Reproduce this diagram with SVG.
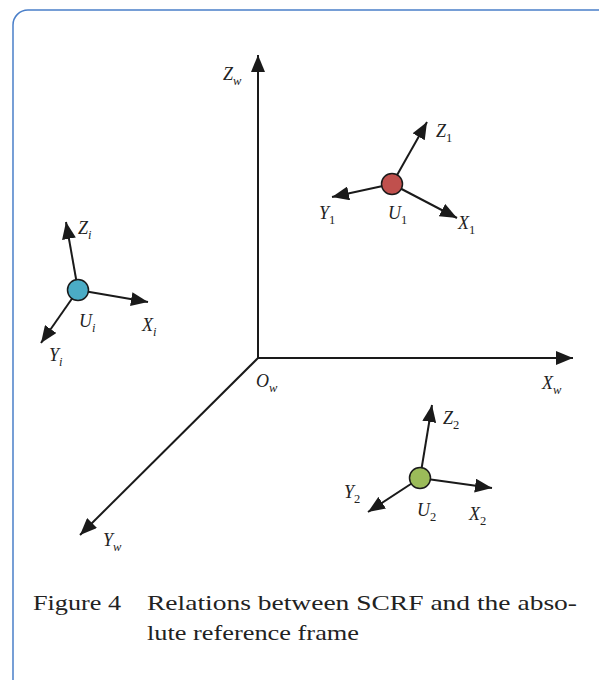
<svg xmlns="http://www.w3.org/2000/svg" width="599" height="680" viewBox="0 0 599 680">
<style>
.ax{stroke:#1a1a1a;stroke-width:2;fill:none}
.lb{font-family:"Liberation Serif","DejaVu Serif",serif;font-style:italic;font-size:18px;fill:#222}
.sb{font-size:12.5px;font-style:italic}
.sn{font-size:12.5px;font-style:normal}
.cap{font-family:"Liberation Serif","DejaVu Serif",serif;font-size:22px;fill:#222}
.nd{stroke:#1a1a1a;stroke-width:1.5}
</style>
<defs>
<marker id="ah" markerUnits="userSpaceOnUse" markerWidth="20" markerHeight="14" refX="17" refY="7" orient="auto">
<path d="M0,0 L17,7 L0,14 Z" fill="#1a1a1a"/>
</marker>
</defs>
<rect x="13" y="10" width="620" height="700" rx="15" fill="none" stroke="#4a7fc9" stroke-width="1.5"/>
<g id="connectors">
<line class="ax" x1="258" y1="358" x2="258" y2="55" marker-end="url(#ah)"/>
<line class="ax" x1="258" y1="358" x2="573" y2="358" marker-end="url(#ah)"/>
<line class="ax" x1="258" y1="358" x2="80" y2="535" marker-end="url(#ah)"/>
<line class="ax" x1="392" y1="184" x2="427" y2="122" marker-end="url(#ah)"/>
<line class="ax" x1="392" y1="184" x2="332" y2="197" marker-end="url(#ah)"/>
<line class="ax" x1="392" y1="184" x2="457" y2="218" marker-end="url(#ah)"/>
<line class="ax" x1="78" y1="290" x2="66" y2="222" marker-end="url(#ah)"/>
<line class="ax" x1="78" y1="290" x2="148" y2="302" marker-end="url(#ah)"/>
<line class="ax" x1="78" y1="290" x2="41" y2="343" marker-end="url(#ah)"/>
<line class="ax" x1="420" y1="478" x2="432" y2="405" marker-end="url(#ah)"/>
<line class="ax" x1="420" y1="478" x2="492" y2="488" marker-end="url(#ah)"/>
<line class="ax" x1="420" y1="478" x2="368" y2="512" marker-end="url(#ah)"/>
</g>
<g id="world">
<text class="lb" x="223" y="80">Z<tspan class="sb" dy="5">w</tspan></text>
<text class="lb" x="256" y="387">O<tspan class="sb" dy="5">w</tspan></text>
<text class="lb" x="542" y="389">X<tspan class="sb" dy="5">w</tspan></text>
<text class="lb" x="103" y="546">Y<tspan class="sb" dy="5">w</tspan></text>
</g>
<g id="U1">
<circle class="nd" cx="392" cy="184" r="10.5" fill="#c0504d"/>
<text class="lb" x="436" y="137">Z<tspan class="sn" dy="5">1</tspan></text>
<text class="lb" x="319" y="219">Y<tspan class="sn" dy="5">1</tspan></text>
<text class="lb" x="388" y="219">U<tspan class="sn" dy="5">1</tspan></text>
<text class="lb" x="458" y="229">X<tspan class="sn" dy="5">1</tspan></text>
</g>
<g id="Ui">
<circle class="nd" cx="78" cy="290" r="10.5" fill="#4bacc6"/>
<text class="lb" x="78" y="234">Z<tspan class="sb" dy="5">i</tspan></text>
<text class="lb" x="79" y="327">U<tspan class="sb" dy="5">i</tspan></text>
<text class="lb" x="142" y="331">X<tspan class="sb" dy="5">i</tspan></text>
<text class="lb" x="49" y="361">Y<tspan class="sb" dy="5">i</tspan></text>
</g>
<g id="U2">
<circle class="nd" cx="420" cy="478" r="10.5" fill="#9bbb59"/>
<text class="lb" x="443" y="424">Z<tspan class="sn" dy="5">2</tspan></text>
<text class="lb" x="344" y="498">Y<tspan class="sn" dy="5">2</tspan></text>
<text class="lb" x="417" y="516">U<tspan class="sn" dy="5">2</tspan></text>
<text class="lb" x="469" y="520">X<tspan class="sn" dy="5">2</tspan></text>
</g>
<g id="caption">
<text class="cap" x="33" y="610" textLength="88" lengthAdjust="spacingAndGlyphs">Figure 4</text>
<text class="cap" x="147" y="610" textLength="430" lengthAdjust="spacingAndGlyphs">Relations between SCRF and the abso-</text>
<text class="cap" x="147" y="640" textLength="212" lengthAdjust="spacingAndGlyphs">lute reference frame</text>
</g>
</svg>
